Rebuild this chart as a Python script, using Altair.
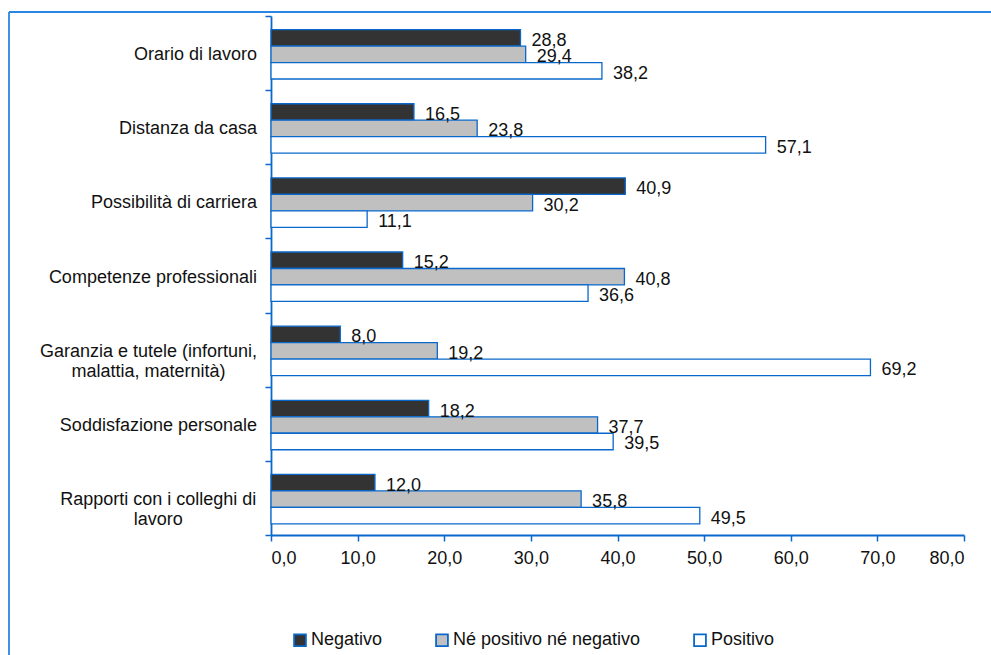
import altair as alt
import pandas as pd

# Survey: judgement on aspects of the job (% of respondents)
categories = [
    "Orario di lavoro",
    "Distanza da casa",
    "Possibilità di carriera",
    "Competenze professionali",
    "Garanzia e tutele (infortuni, malattia, maternità)",
    "Soddisfazione personale",
    "Rapporti con i colleghi di lavoro",
]
category_lines = [
    ["Orario di lavoro"],
    ["Distanza da casa"],
    ["Possibilità di carriera"],
    ["Competenze professionali"],
    ["Garanzia e tutele (infortuni,", "malattia, maternità)"],
    ["Soddisfazione personale"],
    ["Rapporti con i colleghi di", "lavoro"],
]
series = ["Negativo", "Né positivo né negativo", "Positivo"]
negativo = [28.8, 16.5, 40.9, 15.2, 8.0, 18.2, 12.0]
neutro = [29.4, 23.8, 30.2, 40.8, 19.2, 37.7, 35.8]
positivo = [38.2, 57.1, 11.1, 36.6, 69.2, 39.5, 49.5]
x_ticks = [0, 10, 20, 30, 40, 50, 60, 70, 80]

# Styling
FONT = "Liberation Sans"
FS = 18
BLUE = "#0A68CC"
FRAME = "#2B85E2"
fills = ["#333333", "#C0C0C0", "#FFFFFF"]
PLOT_W, PLOT_H = 693, 519
# horizontal centre of the wrapped (two-line) category labels, px left of the axis
wrapped_centre = {categories[4]: -122.5, categories[6]: -112.7}

rows = []
for i, cat in enumerate(categories):
    for s, vals in zip(series, [negativo, neutro, positivo]):
        rows.append({"categoria": cat, "serie": s, "valore": vals[i]})
df = pd.DataFrame(rows)

label_rows = []
for cat, lines in zip(categories, category_lines):
    label_rows.append({
        "categoria": cat,
        "righe": lines,
        "multi": len(lines) > 1,
        "cx": wrapped_centre.get(cat, 0.0),
    })
df_labels = pd.DataFrame(label_rows)

y_enc = alt.Y(
    "categoria:N",
    sort=categories,
    scale=alt.Scale(domain=categories, paddingInner=0, paddingOuter=0),
    axis=alt.Axis(
        title=None,
        labels=False,
        tickBand="extent",
        tickSize=6,
        tickColor=BLUE,
        tickWidth=1.5,
        domainColor=BLUE,
        domainWidth=1.8,
        grid=False,
    ),
)
y_off = alt.YOffset(
    "serie:N",
    sort=series,
    scale=alt.Scale(domain=series, paddingInner=0, paddingOuter=0.75, align=0.55),
)
x_enc = alt.X(
    "valore:Q",
    scale=alt.Scale(domain=[0, 80], nice=False),
    axis=alt.Axis(
        title=None,
        values=x_ticks,
        labelExpr="replace(format(datum.value, '.1f'), '.', ',')",
        labelFont=FONT,
        labelFontSize=FS,
        labelColor="#111111",
        labelPadding=8,
        tickSize=6,
        tickColor=BLUE,
        tickWidth=1.5,
        domainColor=BLUE,
        domainWidth=1.8,
        grid=False,
    ),
)

bars = alt.Chart(df).mark_bar(stroke=BLUE, strokeWidth=1.3).encode(
    y=y_enc,
    yOffset=y_off,
    x=x_enc,
    fill=alt.Fill(
        "serie:N",
        sort=series,
        scale=alt.Scale(domain=series, range=fills),
        legend=alt.Legend(
            title=None,
            orient="none",
            direction="horizontal",
            legendX=20,
            legendY=615,
            symbolType="square",
            symbolSize=140,
            symbolStrokeColor=BLUE,
            symbolStrokeWidth=1.8,
            labelFont=FONT,
            labelFontSize=FS,
            labelColor="#111111",
            labelOffset=2,
            labelLimit=400,
            columnPadding=49,
            padding=0,
        ),
    ),
)

values = alt.Chart(df).transform_calculate(
    testo="replace(format(datum.valore, '.1f'), '.', ',')"
).mark_text(
    align="left", baseline="middle", dx=11, dy=3,
    font=FONT, fontSize=FS, color="#111111",
).encode(
    y=alt.Y("categoria:N", sort=categories),
    yOffset=alt.YOffset("serie:N", sort=series),
    x="valore:Q",
    text="testo:N",
)

cat_single = alt.Chart(df_labels).transform_filter("!datum.multi").mark_text(
    align="right", baseline="middle", dy=2,
    font=FONT, fontSize=FS, color="#111111",
).encode(
    y=alt.Y("categoria:N", sort=categories),
    x=alt.value(-14),
    text="righe",
)

cat_multi = alt.Chart(df_labels).transform_filter("datum.multi").mark_text(
    align="center", baseline="middle", dy=2, lineHeight=20,
    font=FONT, fontSize=FS, color="#111111",
).encode(
    y=alt.Y("categoria:N", sort=categories),
    x=alt.X("cx:Q", scale=None),
    text="righe",
)

frame_df = pd.DataFrame({"k": [0]})
frame_left = alt.Chart(frame_df).mark_rule(color=FRAME, strokeWidth=1.8).encode(
    x=alt.value(-262), y=alt.value(-4), y2=alt.value(PLOT_H + 200)
)
frame_top = alt.Chart(frame_df).mark_rule(color=FRAME, strokeWidth=1.8).encode(
    x=alt.value(-262), x2=alt.value(PLOT_W + 200), y=alt.value(-4)
)

chart = (
    alt.layer(bars, values, cat_single, cat_multi, frame_left, frame_top)
    .properties(
        width=PLOT_W,
        height=PLOT_H,
        autosize=alt.AutoSizeParams(type="none"),
        padding={"left": 271, "top": 16, "right": 27, "bottom": 120},
        background="white",
    )
    .configure_view(strokeWidth=0)
)

chart.save("out.html", embed_options={"renderer": "svg", "actions": False})
